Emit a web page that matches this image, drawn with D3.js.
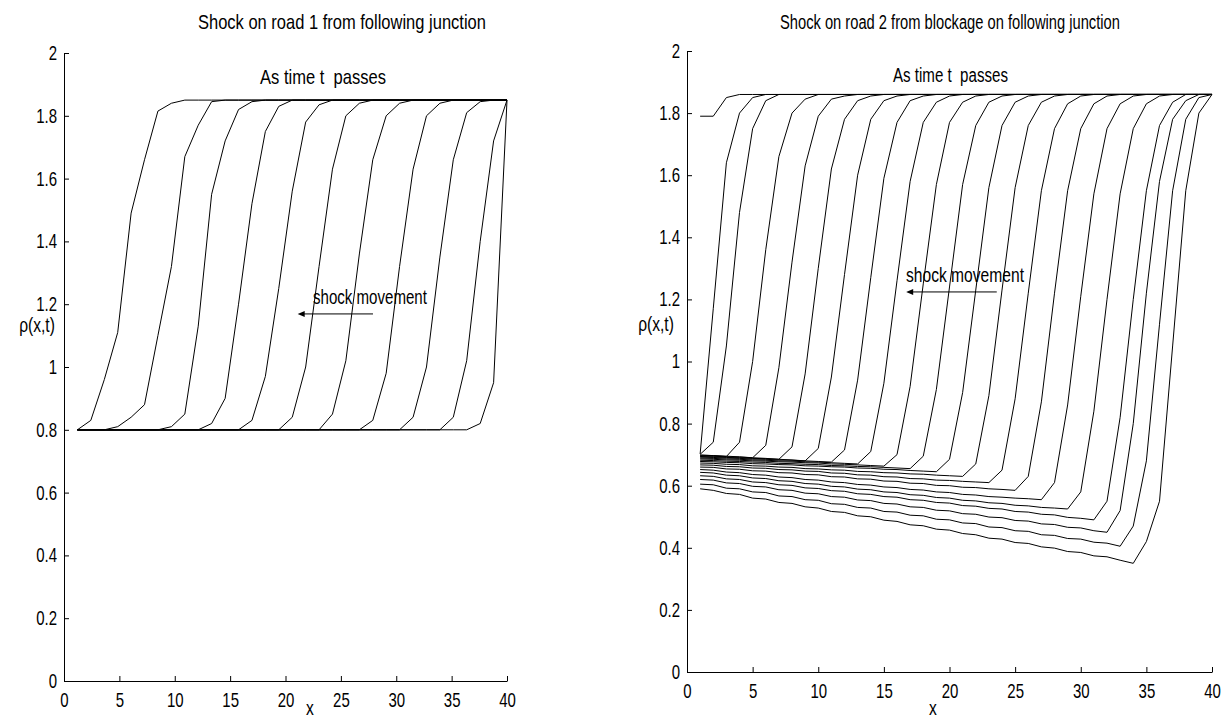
<!DOCTYPE html>
<html>
<head>
<meta charset="utf-8">
<script src="https://cdn.jsdelivr.net/npm/d3@7"></script>
<style>
  body { margin: 0; background: #fff; }
  svg { display: block; }
  text { font-family: "Liberation Sans Narrow", "Arial Narrow", "Liberation Sans", sans-serif; font-size: 20px; fill: #000; }
  .axis path, .axis line { stroke: #000; stroke-width: 1; }
  .curve { fill: none; stroke: #000; stroke-width: 1; }
</style>
</head>
<body>
<svg width="1227" height="720"></svg>
<script>
// ticks
const xTicks = [0, 5, 10, 15, 20, 25, 30, 35, 40];
const yTicks = [0, 0.2, 0.4, 0.6, 0.8, 1, 1.2, 1.4, 1.6, 1.8, 2];

// road 1 grid + density profiles (one per time step)
const road1X = [1.21,2.42,3.64,4.85,6.06,7.27,8.48,9.70,10.91,12.12,
  13.33,14.55,15.76,16.97,18.18,19.39,20.61,21.82,23.03,24.24,
  25.45,26.67,27.88,29.09,30.30,31.52,32.73,33.94,35.15,36.36,
  37.58,38.79,40.00];

const road1Curves = [
  [0.80,0.83,0.96,1.11,1.49,1.66,1.815,1.84,1.85,1.85,
   1.85,1.85,1.85,1.85,1.85,1.85,1.85,1.85,1.85,1.85,
   1.85,1.85,1.85,1.85,1.85,1.85,1.85,1.85,1.85,1.85,
   1.85,1.85,1.85],
  [0.80,0.80,0.80,0.81,0.84,0.88,1.10,1.32,1.67,1.77,
   1.845,1.85,1.85,1.85,1.85,1.85,1.85,1.85,1.85,1.85,
   1.85,1.85,1.85,1.85,1.85,1.85,1.85,1.85,1.85,1.85,
   1.85,1.85,1.85],
  [0.80,0.80,0.80,0.80,0.80,0.80,0.80,0.81,0.85,1.13,
   1.55,1.72,1.82,1.845,1.85,1.85,1.85,1.85,1.85,1.85,
   1.85,1.85,1.85,1.85,1.85,1.85,1.85,1.85,1.85,1.85,
   1.85,1.85,1.85],
  [0.80,0.80,0.80,0.80,0.80,0.80,0.80,0.80,0.80,0.80,
   0.82,0.90,1.20,1.52,1.75,1.83,1.85,1.85,1.85,1.85,
   1.85,1.85,1.85,1.85,1.85,1.85,1.85,1.85,1.85,1.85,
   1.85,1.85,1.85],
  [0.80,0.80,0.80,0.80,0.80,0.80,0.80,0.80,0.80,0.80,
   0.80,0.80,0.80,0.83,0.97,1.25,1.56,1.78,1.835,1.85,
   1.85,1.85,1.85,1.85,1.85,1.85,1.85,1.85,1.85,1.85,
   1.85,1.85,1.85],
  [0.80,0.80,0.80,0.80,0.80,0.80,0.80,0.80,0.80,0.80,
   0.80,0.80,0.80,0.80,0.80,0.80,0.84,1.00,1.32,1.63,
   1.80,1.84,1.85,1.85,1.85,1.85,1.85,1.85,1.85,1.85,
   1.85,1.85,1.85],
  [0.80,0.80,0.80,0.80,0.80,0.80,0.80,0.80,0.80,0.80,
   0.80,0.80,0.80,0.80,0.80,0.80,0.80,0.80,0.80,0.85,
   1.02,1.36,1.66,1.80,1.84,1.85,1.85,1.85,1.85,1.85,
   1.85,1.85,1.85],
  [0.80,0.80,0.80,0.80,0.80,0.80,0.80,0.80,0.80,0.80,
   0.80,0.80,0.80,0.80,0.80,0.80,0.80,0.80,0.80,0.80,
   0.80,0.80,0.83,0.98,1.32,1.63,1.80,1.84,1.85,1.85,
   1.85,1.85,1.85],
  [0.80,0.80,0.80,0.80,0.80,0.80,0.80,0.80,0.80,0.80,
   0.80,0.80,0.80,0.80,0.80,0.80,0.80,0.80,0.80,0.80,
   0.80,0.80,0.80,0.80,0.80,0.84,1.00,1.35,1.66,1.81,
   1.845,1.85,1.85],
  [0.80,0.80,0.80,0.80,0.80,0.80,0.80,0.80,0.80,0.80,
   0.80,0.80,0.80,0.80,0.80,0.80,0.80,0.80,0.80,0.80,
   0.80,0.80,0.80,0.80,0.80,0.80,0.80,0.80,0.84,1.02,
   1.40,1.72,1.85],
  [0.80,0.80,0.80,0.80,0.80,0.80,0.80,0.80,0.80,0.80,
   0.80,0.80,0.80,0.80,0.80,0.80,0.80,0.80,0.80,0.80,
   0.80,0.80,0.80,0.80,0.80,0.80,0.80,0.80,0.80,0.80,
   0.82,0.95,1.85]
];

// road 2 grid + density profiles
const road2X = [1,2,3,4,5,6,7,8,9,10,11,12,13,14,15,16,17,18,19,20,
  21,22,23,24,25,26,27,28,29,30,31,32,33,34,35,36,37,38,39,40];

const road2Curves = [
  [.590,.585,.575,.572,.560,.557,.546,.543,.532,.528,
   .517,.514,.503,.500,.489,.485,.474,.471,.460,.457,
   .446,.442,.431,.428,.417,.414,.403,.399,.388,.385,
   .374,.371,.360,.350,.42,.55,1.05,1.55,1.80,1.86],
  [.605,.603,.592,.590,.580,.578,.567,.565,.555,.553,
   .542,.540,.530,.528,.517,.515,.505,.503,.492,.490,
   .480,.478,.467,.465,.455,.453,.442,.440,.430,.428,
   .418,.415,.405,.47,.68,1.12,1.55,1.78,1.85,1.86],
  [.620,.618,.609,.607,.598,.596,.587,.585,.576,.574,
   .565,.563,.554,.552,.543,.541,.532,.530,.521,.519,
   .510,.508,.499,.497,.488,.486,.477,.475,.466,.464,
   .455,.450,.52,.80,1.22,1.58,1.78,1.84,1.86,1.86],
  [.632,.630,.622,.620,.612,.610,.603,.601,.593,.591,
   .584,.582,.574,.572,.565,.563,.555,.553,.546,.544,
   .536,.534,.527,.525,.517,.515,.508,.506,.498,.495,
   .490,.55,.82,1.20,1.55,1.76,1.835,1.86,1.86,1.86],
  [.643,.641,.634,.632,.625,.623,.616,.614,.607,.605,
   .598,.596,.589,.587,.580,.578,.571,.569,.562,.560,
   .553,.551,.545,.543,.537,.535,.530,.528,.525,.58,
   .84,1.20,1.54,1.75,1.83,1.855,1.86,1.86,1.86,1.86],
  [.652,.650,.644,.642,.636,.634,.628,.626,.620,.618,
   .612,.610,.604,.602,.596,.594,.588,.586,.580,.578,
   .572,.570,.565,.563,.560,.558,.555,.61,.86,1.21,
   1.54,1.75,1.83,1.855,1.86,1.86,1.86,1.86,1.86,1.86],
  [.660,.659,.654,.653,.648,.647,.642,.641,.636,.635,
   .629,.628,.622,.621,.615,.614,.608,.607,.601,.600,
   .595,.594,.590,.588,.585,.63,.87,1.22,1.55,1.75,
   1.83,1.855,1.86,1.86,1.86,1.86,1.86,1.86,1.86,1.86],
  [.667,.666,.662,.661,.657,.656,.652,.651,.647,.646,
   .641,.640,.635,.634,.629,.628,.623,.622,.618,.617,
   .614,.612,.610,.65,.88,1.22,1.55,1.75,1.83,1.855,
   1.86,1.86,1.86,1.86,1.86,1.86,1.86,1.86,1.86,1.86],
  [.673,.672,.669,.668,.664,.663,.660,.659,.655,.654,
   .651,.650,.646,.645,.642,.641,.638,.637,.634,.632,
   .630,.67,.89,1.23,1.56,1.76,1.835,1.855,1.86,1.86,
   1.86,1.86,1.86,1.86,1.86,1.86,1.86,1.86,1.86,1.86],
  [.678,.677,.675,.674,.671,.670,.668,.667,.664,.663,
   .661,.660,.657,.656,.653,.652,.649,.647,.645,.685,
   .90,1.23,1.56,1.76,1.835,1.855,1.86,1.86,1.86,1.86,
   1.86,1.86,1.86,1.86,1.86,1.86,1.86,1.86,1.86,1.86],
  [.682,.681,.679,.678,.676,.675,.672,.671,.669,.668,
   .665,.664,.662,.661,.659,.657,.655,.695,.91,1.24,
   1.57,1.76,1.835,1.855,1.86,1.86,1.86,1.86,1.86,1.86,
   1.86,1.86,1.86,1.86,1.86,1.86,1.86,1.86,1.86,1.86],
  [.686,.685,.683,.682,.680,.679,.677,.676,.674,.673,
   .670,.669,.667,.665,.663,.70,.92,1.25,1.57,1.77,
   1.835,1.855,1.86,1.86,1.86,1.86,1.86,1.86,1.86,1.86,
   1.86,1.86,1.86,1.86,1.86,1.86,1.86,1.86,1.86,1.86],
  [.689,.688,.686,.685,.683,.682,.680,.679,.677,.676,
   .674,.672,.670,.71,.93,1.26,1.58,1.77,1.835,1.855,
   1.86,1.86,1.86,1.86,1.86,1.86,1.86,1.86,1.86,1.86,
   1.86,1.86,1.86,1.86,1.86,1.86,1.86,1.86,1.86,1.86],
  [.692,.691,.689,.688,.686,.685,.683,.682,.680,.678,
   .676,.715,.94,1.27,1.59,1.77,1.84,1.855,1.86,1.86,
   1.86,1.86,1.86,1.86,1.86,1.86,1.86,1.86,1.86,1.86,
   1.86,1.86,1.86,1.86,1.86,1.86,1.86,1.86,1.86,1.86],
  [.694,.693,.691,.690,.688,.687,.685,.683,.680,.72,
   .95,1.28,1.60,1.78,1.84,1.855,1.86,1.86,1.86,1.86,
   1.86,1.86,1.86,1.86,1.86,1.86,1.86,1.86,1.86,1.86,
   1.86,1.86,1.86,1.86,1.86,1.86,1.86,1.86,1.86,1.86],
  [.696,.695,.693,.692,.690,.688,.685,.725,.96,1.30,
   1.62,1.78,1.84,1.855,1.86,1.86,1.86,1.86,1.86,1.86,
   1.86,1.86,1.86,1.86,1.86,1.86,1.86,1.86,1.86,1.86,
   1.86,1.86,1.86,1.86,1.86,1.86,1.86,1.86,1.86,1.86],
  [.698,.697,.695,.693,.690,.73,.98,1.32,1.63,1.79,
   1.845,1.855,1.86,1.86,1.86,1.86,1.86,1.86,1.86,1.86,
   1.86,1.86,1.86,1.86,1.86,1.86,1.86,1.86,1.86,1.86,
   1.86,1.86,1.86,1.86,1.86,1.86,1.86,1.86,1.86,1.86],
  [.699,.697,.694,.74,1.00,1.36,1.66,1.80,1.845,1.86,
   1.86,1.86,1.86,1.86,1.86,1.86,1.86,1.86,1.86,1.86,
   1.86,1.86,1.86,1.86,1.86,1.86,1.86,1.86,1.86,1.86,
   1.86,1.86,1.86,1.86,1.86,1.86,1.86,1.86,1.86,1.86],
  [.701,.74,1.05,1.48,1.75,1.84,1.86,1.86,1.86,1.86,
   1.86,1.86,1.86,1.86,1.86,1.86,1.86,1.86,1.86,1.86,
   1.86,1.86,1.86,1.86,1.86,1.86,1.86,1.86,1.86,1.86,
   1.86,1.86,1.86,1.86,1.86,1.86,1.86,1.86,1.86,1.86],
  [.702,1.17,1.64,1.80,1.85,1.86,1.86,1.86,1.86,1.86,
   1.86,1.86,1.86,1.86,1.86,1.86,1.86,1.86,1.86,1.86,
   1.86,1.86,1.86,1.86,1.86,1.86,1.86,1.86,1.86,1.86,
   1.86,1.86,1.86,1.86,1.86,1.86,1.86,1.86,1.86,1.86],
  [1.79,1.79,1.85,1.86,1.86,1.86,1.86,1.86,1.86,1.86,
   1.86,1.86,1.86,1.86,1.86,1.86,1.86,1.86,1.86,1.86,
   1.86,1.86,1.86,1.86,1.86,1.86,1.86,1.86,1.86,1.86,
   1.86,1.86,1.86,1.86,1.86,1.86,1.86,1.86,1.86,1.86]
];

const svg = d3.select('svg');

// layout of the two panels (pixels) and where the hand-placed notes sit
const panels = [
  {
    left: 64, right: 507, bottom: 681, top: 53,
    title: 'Shock on road 1 from following junction', titleBox: [198, 288],
    xs: road1X, curves: road1Curves,
    noteBox: [260, 126, 84], shockBox: [313, 114, 304], arrow: [27.9, 21.1, 1.169],
    ylab: [37, 332], xlab: [310, 715]
  },
  {
    left: 687, right: 1212, bottom: 672, top: 51,
    title: 'Shock on road 2 from blockage on following junction', titleBox: [780, 340],
    xs: road2X, curves: road2Curves,
    noteBox: [893, 115, 82], shockBox: [906, 118, 282], arrow: [23.6, 16.7, 1.224],
    ylab: [656, 331], xlab: [933, 715]
  }
];

// squeeze a text horizontally (narrow helvetica look of the original);
// scale about the text's own x so its anchor stays put
const squeeze = (node, k) => {
  const t = d3.select(node);
  const x0 = +t.attr('x') || 0;
  t.attr('x', x0 / k).attr('transform', 'scale(' + k + ',1)');
};
const squeezeTo = (node, w) => squeeze(node, w / node.getComputedTextLength());

panels.forEach((p) => {
  const x = d3.scaleLinear().domain([0, 40]).range([p.left, p.right]);
  const y = d3.scaleLinear().domain([0, 2]).range([p.bottom, p.top]);
  const g = svg.append('g');

  const line = d3.line()
    .x((d, i) => x(p.xs[i]))
    .y((d) => y(d));

  g.selectAll('.curve')
    .data(p.curves)
    .enter()
    .append('path')
    .attr('class', 'curve')
    .attr('d', line);

  // axes, ticks pointing inwards like matlab
  const xa = g.append('g')
    .attr('class', 'axis')
    .attr('transform', 'translate(0,' + p.bottom + ')')
    .call(d3.axisBottom(x).tickValues(xTicks).tickSizeInner(-5).tickSizeOuter(0).tickPadding(12))
    .attr('font-size', null).attr('font-family', null);

  const ya = g.append('g')
    .attr('class', 'axis')
    .attr('transform', 'translate(' + p.left + ',0)')
    .call(d3.axisLeft(y).tickValues(yTicks).tickFormat(d3.format('~g'))
      .tickSizeInner(-5).tickSizeOuter(0).tickPadding(7))
    .attr('font-size', null).attr('font-family', null);

  xa.selectAll('text').each(function() { squeeze(this, 0.75); });
  ya.selectAll('text').each(function() { squeeze(this, 0.75); });

  // titles + labels
  const title = g.append('text')
    .attr('x', p.titleBox[0])
    .attr('y', 29)
    .text(p.title);
  squeezeTo(title.node(), p.titleBox[1]);

  const note = g.append('text')
    .attr('x', p.noteBox[0])
    .attr('y', p.noteBox[2])
    .style('white-space', 'pre')
    .text('As time t  passes');
  squeezeTo(note.node(), p.noteBox[1]);

  const shock = g.append('text')
    .attr('x', p.shockBox[0])
    .attr('y', p.shockBox[2])
    .text('shock movement');
  squeezeTo(shock.node(), p.shockBox[1]);

  const yl = g.append('text')
    .attr('x', p.ylab[0])
    .attr('y', p.ylab[1])
    .attr('text-anchor', 'middle')
    .text('ρ(x,t)');
  squeeze(yl.node(), 0.78);

  const xl = g.append('text')
    .attr('x', p.xlab[0])
    .attr('y', p.xlab[1])
    .attr('text-anchor', 'middle')
    .text('x');
  squeeze(xl.node(), 0.78);

  // arrow
  const ax0 = x(p.arrow[0]), ax1 = x(p.arrow[1]), ay = y(p.arrow[2]);
  g.append('line')
    .attr('x1', ax0).attr('x2', ax1 + 4)
    .attr('y1', ay).attr('y2', ay)
    .attr('stroke', '#000');
  g.append('path')
    .attr('d', 'M' + ax1 + ',' + ay + 'l7,-3l0,6z')
    .attr('fill', '#000');
});
</script>
</body>
</html>
